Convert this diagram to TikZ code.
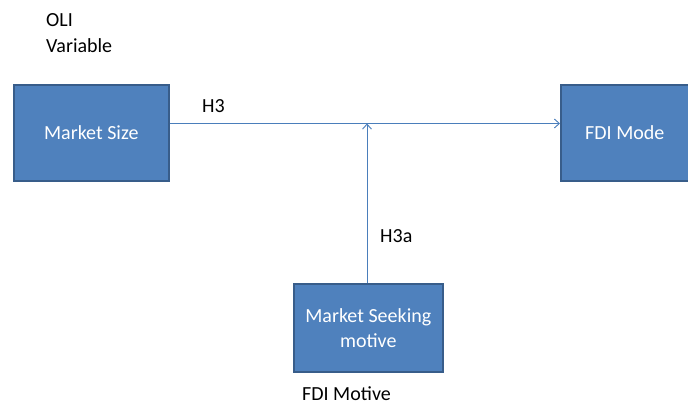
\documentclass[tikz,border=0pt]{standalone}
\usepackage{fontspec}
\setmainfont{Carlito}
\usetikzlibrary{arrows.meta}
\definecolor{boxfill}{HTML}{4F81BD}
\definecolor{boxline}{HTML}{385D8A}
\definecolor{linkcol}{HTML}{4A7EBB}
\begin{document}
\begin{tikzpicture}[x=1pt,y=-1pt,
  blockbox/.style={draw=boxline,line width=1.6pt,fill=boxfill,text=white,
    font=\fontsize{20}{25}\selectfont,align=center,inner sep=0pt},
  link/.style={draw=linkcol,line width=0.9pt,-{Straight Barb[length=5pt,width=9pt]}},
  lbl/.style={font=\fontsize{20}{26}\selectfont,text=black,align=left,inner sep=0pt}]
\useasboundingbox (0,0) rectangle (688,404);
\fill[white] (0,0) rectangle (688,404);
% blocks
\node[blockbox,minimum width=155pt,minimum height=96pt,anchor=north west] (size) at (13,84) {Market Size};
\node[blockbox,minimum width=128pt,minimum height=96pt,anchor=north west] (mode) at (560,84) {FDI Mode};
\node[blockbox,minimum width=149pt,minimum height=88pt,anchor=north west] (seek) at (293,283) {Market Seeking\\motive};
% connectors
\coordinate (meet) at (367,123.5);
\draw[link] (size.east |- meet) -- (mode.west |- meet);
\draw[link] (seek.north -| meet) -- (meet);
% labels
\node[lbl,anchor=base west] (oli) at (46,53) {OLI\\Variable};
\node[lbl,anchor=base west] (h3) at (202,112) {H3};
\node[lbl,anchor=base west] (h3a) at (380,242) {H3a};
\node[lbl,anchor=base west] (motive) at (302,400) {FDI Motive};
\end{tikzpicture}
\end{document}
